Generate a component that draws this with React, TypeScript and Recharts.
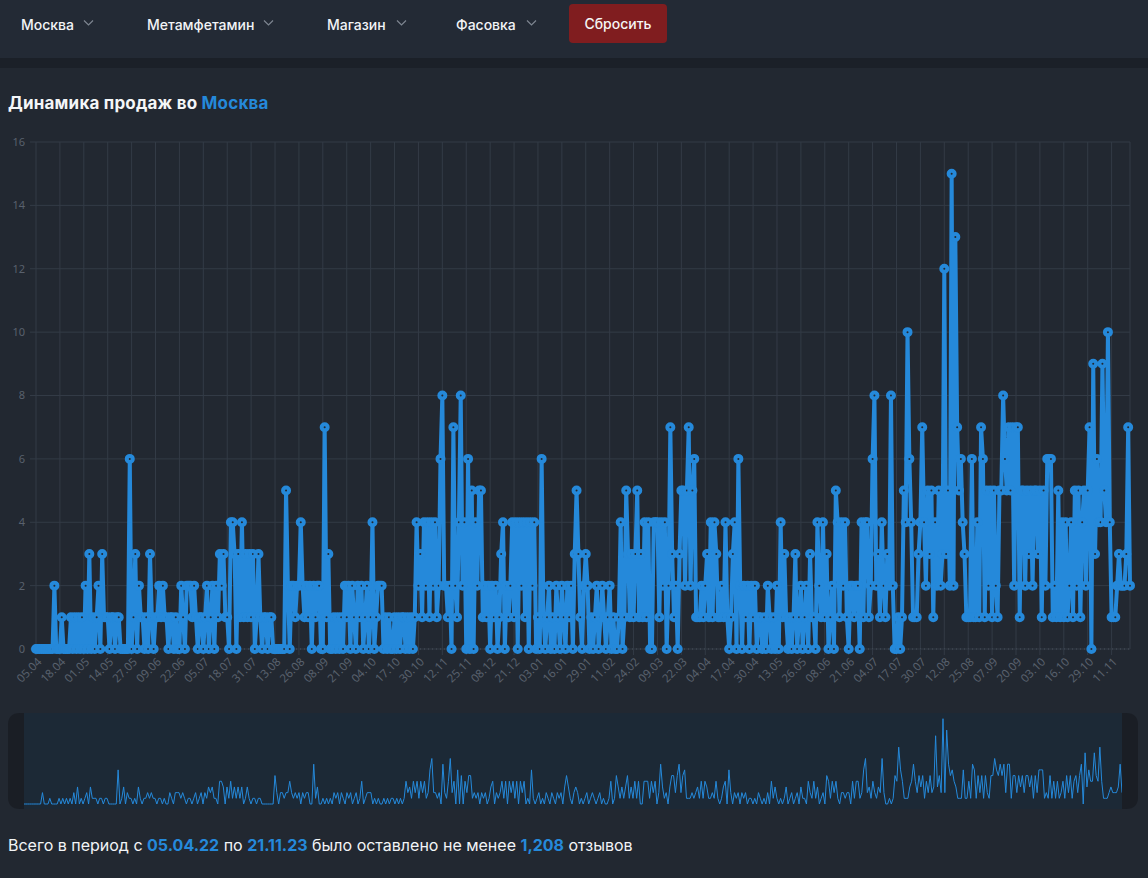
import React from 'react';
import { LineChart, Line, XAxis, YAxis, CartesianGrid, Brush } from 'recharts';

// Daily review counts, 05.04.22 – 21.11.23
const salesApr2022toJun2022 = [
  0,0,0,0,0,0,0,0,0,0,2,0,0,
  0,1,0,0,0,0,1,0,1,0,1,0,1,
  0,2,0,3,0,1,0,1,2,0,3,1,1,
  1,0,1,1,0,1,1,0,0,0,0,0,6,
  0,1,3,0,2,1,1,0,1,0,3,1,0,
  1,1,2,1,2,1,1,0,1,1,0,1,0,
  0,2,1,0,2,2,2,1,2,1,0,1,1,
];
const salesJul2022toSep2022 = [
  0,1,2,0,1,2,0,2,1,3,2,3,1,
  1,0,4,4,3,0,3,1,4,1,3,1,3,
  1,3,0,1,3,1,0,1,1,0,1,1,0,
  0,0,0,0,0,0,5,2,0,2,2,1,2,
  2,4,2,1,2,1,2,0,2,1,2,2,0,
  0,7,1,3,0,0,1,0,1,0,1,0,2,
  1,2,0,2,1,0,2,1,2,0,1,2,0,
];
const salesOct2022toDec2022 = [
  1,4,0,1,2,2,2,0,1,0,1,0,0,
  1,0,1,0,1,1,0,1,0,1,0,1,4,
  2,3,1,4,2,4,1,4,2,4,1,2,6,
  8,2,2,1,2,0,7,2,1,4,8,2,4,
  0,6,0,5,0,4,2,5,5,1,2,1,2,
  0,2,1,2,0,1,3,4,0,2,1,2,4,
  1,4,0,4,2,4,1,4,0,4,2,4,0,
];
const salesJan2023toMar2023 = [
  1,0,6,1,0,1,2,0,1,0,2,1,0,
  2,1,0,2,1,2,0,3,5,3,1,0,2,
  3,2,0,1,0,1,2,0,1,2,1,0,1,
  2,0,1,0,0,1,4,0,1,5,3,1,3,
  1,3,5,1,3,1,4,1,4,0,0,4,4,
  4,1,4,2,4,0,2,7,3,1,2,0,3,
  5,5,2,5,7,2,5,6,1,1,1,2,1,
];
const salesApr2023toJun2023 = [
  2,3,1,4,1,4,3,1,1,2,1,4,1,
  0,1,3,4,0,6,2,0,2,1,2,0,2,
  1,2,0,1,1,0,1,0,2,1,0,1,0,
  2,0,4,1,3,1,0,1,0,1,3,0,1,
  2,0,1,2,0,3,1,1,0,4,2,1,4,
  1,3,0,1,2,0,5,4,1,4,2,4,1,
  0,2,2,1,2,2,0,4,1,4,4,1,2,
];
const salesJul2023toNov2023 = [
  6,8,2,3,1,4,2,1,3,2,8,2,0,
  0,1,0,1,5,4,10,6,4,1,1,1,3,
  4,7,4,2,5,3,5,1,4,2,5,2,3,
  12,3,5,2,15,2,13,7,5,6,4,3,1,
  1,1,6,1,1,4,1,7,6,1,5,2,5,
  1,5,2,1,5,5,8,6,5,7,5,7,2,
  7,7,1,5,5,2,5,3,5,2,5,5,3,
  5,1,5,2,6,6,6,1,2,1,5,1,4,
  1,4,1,2,4,1,5,2,5,1,4,5,2,
  5,7,0,9,3,6,4,4,9,5,4,10,4,
  1,1,1,2,3,2,2,2,3,7,2,
];

const yTicks = [0, 2, 4, 6, 8, 10, 12, 14, 16];
const navItems = ['Москва', 'Метамфетамин', 'Магазин', 'Фасовка'];
const navX = [21, 147, 327, 456];
const chevronX = [83, 263, 396, 526];
const cityName = 'Москва';
const periodStart = '05.04.22';
const periodEnd = '21.11.23';
const totalReviews = '1,208';

const salesValues = [
  ...salesApr2022toJun2022,
  ...salesJul2022toSep2022,
  ...salesOct2022toDec2022,
  ...salesJan2023toMar2023,
  ...salesApr2023toJun2023,
  ...salesJul2023toNov2023,
];

const pad = (n: number) => (n < 10 ? '0' + n : '' + n);
const dayLabels = salesValues.map((_, i) => {
  const d = new Date(Date.UTC(2022, 3, 5 + i));
  return pad(d.getUTCDate()) + '.' + pad(d.getUTCMonth() + 1);
});
const data = salesValues.map((v, i) => ({ date: dayLabels[i], count: v }));

const BLUE = '#2589da';
const CARD = '#222831';
const GRID = '#333b46';
const TICK = '#59616d';
const FONT = 'Inter, "Noto Sans", sans-serif';

const XTick = (props: any) => {
  const { x, y, payload } = props;
  return (
    <text
      x={x}
      y={y}
      dx={2}
      dy={7}
      transform={`rotate(-45 ${x} ${y})`}
      textAnchor="end"
      fill={TICK}
      fontSize={11.5}
      fontFamily='"Noto Sans", sans-serif'
    >
      {payload.value}
    </text>
  );
};

const Traveller = (props: any) => {
  const { x, y, width, height } = props;
  const left = x < 500;
  const r = 12;
  let d: string;
  if (left) {
    d = `M${x + r},${y} L${x + width},${y} L${x + width},${y + height} L${x + r},${y + height} Q${x},${y + height} ${x},${y + height - r} L${x},${y + r} Q${x},${y} ${x + r},${y} Z`;
  } else {
    d = `M${x},${y} L${x + width - r},${y} Q${x + width},${y} ${x + width},${y + r} L${x + width},${y + height - r} Q${x + width},${y + height} ${x + width - r},${y + height} L${x},${y + height} Z`;
  }
  return (
    <g>
      <rect x={x} y={y} width={width} height={height} fill={CARD} />
      <path d={d} fill="#1a1e25" />
    </g>
  );
};

const Chevron = ({ x }: { x: number }) => (
  <svg style={{ position: 'absolute', left: x, top: 19 }} width={11} height={8}>
    <path d="M1,1.5 L5.5,6 L10,1.5" stroke="#7d8590" strokeWidth={1.2} fill="none" />
  </svg>
);

export default function App() {
  return (
    <div
      style={{
        position: 'relative',
        width: 1148,
        height: 878,
        background: CARD,
        fontFamily: FONT,
        overflow: 'hidden',
        color: '#fff',
      }}
    >
      <style>{'body{margin:0;background:#222831;}'}</style>
      {/* nav bar */}
      <div style={{ position: 'absolute', left: 0, top: 0, width: 1148, height: 58, background: '#232a35' }} />
      <div style={{ position: 'absolute', left: 0, top: 58, width: 1148, height: 10, background: '#1b2028' }} />
      {navItems.map((t, i) => (
        <div key={t} style={{ position: 'absolute', left: navX[i], top: 15, fontSize: 14, fontWeight: 500, lineHeight: '20px', color: '#f2f4f7' }}>{t}</div>
      ))}
      {chevronX.map((x) => (
        <Chevron key={x} x={x} />
      ))}
      <div
        style={{
          position: 'absolute',
          left: 569,
          top: 4,
          width: 98,
          height: 39,
          background: '#801d1f',
          borderRadius: 4,
          fontSize: 14,
          fontWeight: 500,
          lineHeight: '39px',
          textAlign: 'center',
          color: '#f5f5f5',
        }}
      >
        Сбросить
      </div>

      {/* title */}
      <div style={{ position: 'absolute', left: 8, top: 91, fontSize: 17, fontWeight: 700, lineHeight: '24px', color: '#f4f6f8', letterSpacing: 0.2 }}>
        Динамика продаж во <span style={{ color: BLUE }}>{cityName}</span>
      </div>

      {/* chart */}
      <div style={{ position: 'absolute', left: 0, top: 120 }}>
        <LineChart width={1148} height={690} data={data} margin={{ top: 22, right: 18, bottom: 0, left: 8 }}>
          <CartesianGrid stroke={GRID} strokeWidth={1} />
          <XAxis
            dataKey="date"
            interval={12}
            height={65}
            tick={<XTick />}
            tickSize={6}
            tickMargin={4}
            tickLine={{ stroke: GRID }}
            axisLine={{ stroke: '#4a525d', strokeDasharray: '1 3' }}
          />
          <YAxis
            width={28}
            domain={[0, 16]}
            ticks={yTicks}
            tickSize={6}
            tickMargin={5}
            tick={{ fill: TICK, fontSize: 11, fontFamily: '"Noto Sans", sans-serif' }}
            tickLine={{ stroke: GRID }}
            axisLine={false}
          />
          <Line
            type="linear"
            dataKey="count"
            stroke={BLUE}
            strokeWidth={4}
            dot={{ r: 3, stroke: BLUE, strokeWidth: 4, fill: CARD }}
            isAnimationActive={false}
          />
          <Brush
            dataKey="date"
            x={8}
            y={593}
            width={1130}
            height={96}
            travellerWidth={16}
            fill="#1c2936"
            stroke="transparent"
            traveller={(p: any) => <Traveller {...p} />}
            padding={{ top: 0, bottom: 5, left: 16, right: 16 }}
          >
            <LineChart data={data}>
              <Line type="linear" dataKey="count" stroke={BLUE} strokeWidth={1} dot={false} isAnimationActive={false} />
            </LineChart>
          </Brush>
        </LineChart>
      </div>

      {/* footer */}
      <div style={{ position: 'absolute', left: 8, top: 834, fontSize: 16, lineHeight: '22px', color: '#f2f4f7' }}>
        Всего в период с <b style={{ color: BLUE }}>{periodStart}</b> по <b style={{ color: BLUE }}>{periodEnd}</b> было
        оставлено не менее <b style={{ color: BLUE }}>{totalReviews}</b> отзывов
      </div>
    </div>
  );
}
